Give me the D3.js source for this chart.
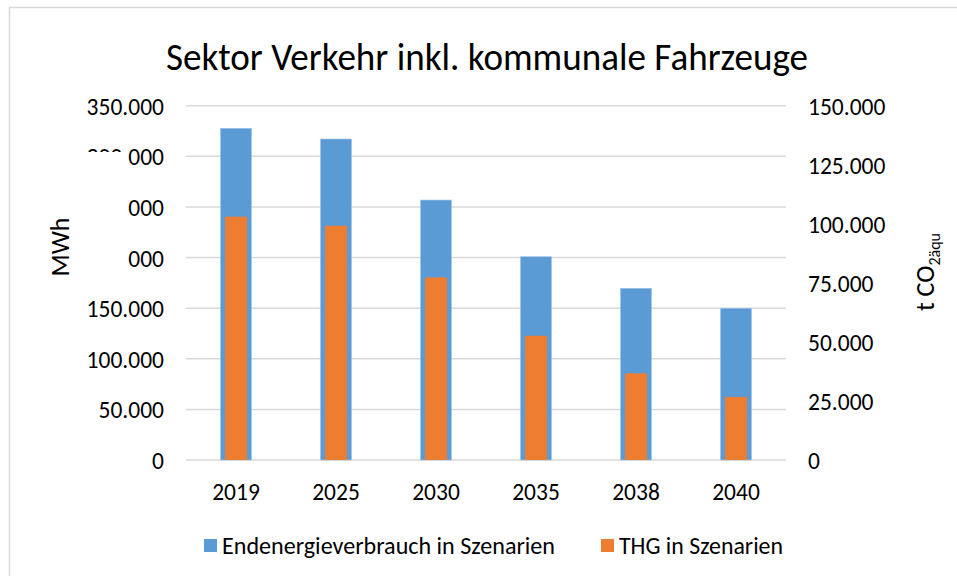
<!DOCTYPE html>
<html>
<head>
<meta charset="utf-8">
<script src="https://cdn.jsdelivr.net/npm/d3@7"></script>
<style>
  body { margin: 0; background: #fff; }
  text { font-family: Carlito, Calibri, "Open Sans", sans-serif; fill: #000; }
</style>
</head>
<body>
<svg id="chart" width="957" height="576"></svg>
<script>
// data
var years = ["2019", "2025", "2030", "2035", "2038", "2040"];
var energy = [327700, 317100, 256800, 200800, 169600, 149900];   // MWh, left axis
var ghg = [103000, 99200, 77300, 52600, 36700, 26700];           // t CO2aequ, right axis
var leftTicks = [0, 50000, 100000, 150000, 200000, 250000, 300000, 350000];
var rightTicks = [0, 25000, 50000, 75000, 100000, 125000, 150000];
var seriesNames = ["Endenergieverbrauch in Szenarien", "THG in Szenarien"];
var colors = ["#5b9bd5", "#ed7d31"];

var svg = d3.select("#chart");
var de = d3.formatLocale({ decimal: ",", thousands: ".", grouping: [3], currency: ["", "€"] });
var fmt = de.format(",d");

var plotLeft = 186, plotRight = 786, plotTop = 105.7, plotBottom = 460;
var tickFont = "23.5px";

// chart border
svg.append("rect")
    .attr("x", 9.5).attr("y", 7.5)
    .attr("width", 960).attr("height", 600)
    .attr("fill", "#fff").attr("stroke", "#d9d9d9").attr("stroke-width", 1.5);

var x = d3.scaleBand().domain(years).range([plotLeft, plotRight]).paddingInner(0.69).paddingOuter(0.345);
var yL = d3.scaleLinear().domain([0, 350000]).range([plotBottom, plotTop]);
var yR = d3.scaleLinear().domain([0, 150000]).range([plotBottom, plotTop]);

// gridlines
svg.append("g").selectAll("line")
    .data(leftTicks)
    .enter().append("line")
    .attr("x1", plotLeft).attr("x2", plotRight)
    .attr("y1", function(d) { return yL(d); })
    .attr("y2", function(d) { return yL(d); })
    .attr("stroke", "#d9d9d9").attr("stroke-width", 1.5);

// energy bars (wide, blue)
svg.append("g").selectAll("rect")
    .data(energy)
    .enter().append("rect")
    .attr("x", function(d, i) { return x(years[i]); })
    .attr("width", x.bandwidth())
    .attr("y", function(d) { return yL(d); })
    .attr("height", function(d) { return plotBottom - yL(d); })
    .attr("fill", colors[0])
    .attr("stroke", "#9dc3e6").attr("stroke-width", 0.6);

// ghg bars (narrow, orange) on secondary axis
var narrow = 22;
svg.append("g").selectAll("rect")
    .data(ghg)
    .enter().append("rect")
    .attr("x", function(d, i) { return x(years[i]) + (x.bandwidth() - narrow) / 2; })
    .attr("width", narrow)
    .attr("y", function(d) { return yR(d); })
    .attr("height", function(d) { return plotBottom - yR(d); })
    .attr("fill", colors[1]);

// left axis
var axL = svg.append("g")
    .attr("transform", "translate(" + (plotLeft - 22) + ",0)")
    .call(d3.axisLeft(yL).tickValues(leftTicks).tickFormat(fmt).tickSize(0).tickPadding(0));
axL.select(".domain").remove();
axL.selectAll("text").style("font-size", tickFont).attr("font-family", null).attr("dy", "0.36em");

// right axis
var axR = svg.append("g")
    .attr("transform", "translate(808,0)")
    .call(d3.axisRight(yR).tickValues(rightTicks).tickFormat(fmt).tickSize(0).tickPadding(0));
axR.select(".domain").remove();
axR.selectAll("text").style("font-size", tickFont).attr("font-family", null).attr("dy", "0.36em");

// x axis
var axX = svg.append("g")
    .attr("transform", "translate(0," + plotBottom + ")")
    .call(d3.axisBottom(x).tickSize(0).tickPadding(32));
axX.select(".domain").remove();
axX.selectAll("text").style("font-size", tickFont).attr("font-family", null).attr("dy", "0.36em");

// title
svg.append("text")
    .attr("x", 487).attr("y", 70)
    .attr("text-anchor", "middle")
    .attr("textLength", 642).attr("lengthAdjust", "spacingAndGlyphs")
    .style("font-size", "38px")
    .text("Sektor Verkehr inkl. kommunale Fahrzeuge");

// left axis title, its white box overlaps some tick labels
svg.append("rect")
    .attr("x", 20).attr("y", 152)
    .attr("width", 107).attr("height", 136)
    .attr("fill", "#fff");
svg.append("text")
    .attr("transform", "translate(69,247) rotate(-90)")
    .attr("text-anchor", "middle")
    .style("font-size", "26px")
    .text("MWh");

// right axis title with subscript
var rt = svg.append("text")
    .attr("transform", "translate(934,272) rotate(-90)")
    .attr("text-anchor", "middle")
    .style("font-size", "26px");
rt.append("tspan").text("t CO");
rt.append("tspan").attr("dy", 6).style("font-size", "16px").text("2äqu");

// legend
var legendX = [204, 601];
var legendW = [333, 164];
var lg = svg.append("g").selectAll("g")
    .data(seriesNames)
    .enter().append("g")
    .attr("transform", function(d, i) { return "translate(" + legendX[i] + ",539)"; });
lg.append("rect")
    .attr("width", 13).attr("height", 13)
    .attr("fill", function(d, i) { return colors[i]; });
lg.append("text")
    .attr("x", 18).attr("y", 15)
    .attr("textLength", function(d, i) { return legendW[i]; })
    .attr("lengthAdjust", "spacingAndGlyphs")
    .style("font-size", "24px")
    .text(function(d) { return d; });
</script>
</body>
</html>
